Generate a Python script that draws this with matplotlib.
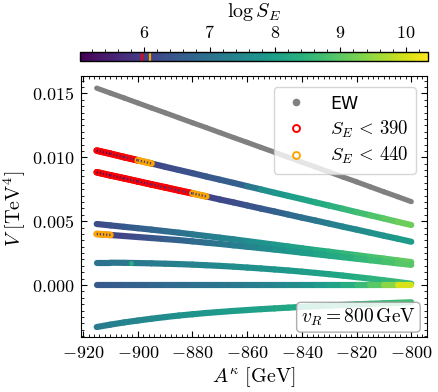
import numpy as np
import matplotlib
matplotlib.use("Agg")
import matplotlib.pyplot as plt
from matplotlib.collections import LineCollection
from matplotlib.colors import Normalize
from matplotlib.cm import ScalarMappable
from matplotlib.ticker import FuncFormatter, MultipleLocator
from matplotlib.lines import Line2D

plt.rcParams["mathtext.fontset"] = "cm"
plt.rcParams["font.size"] = 13

# ---------------- data ----------------
A_kappa = [-915, -910, -905, -900, -895, -890, -885, -880, -875, -870, -865, -860,
           -855, -850, -845, -840, -835, -830, -825, -820, -815, -810, -805, -800]

V_EW = [0.01542, 0.01503, 0.01465, 0.01426, 0.01387, 0.01349, 0.01310, 0.01271,
        0.01233, 0.01194, 0.01155, 0.01117, 0.01078, 0.01040, 0.01001, 0.00962,
        0.00924, 0.00885, 0.00846, 0.00808, 0.00769, 0.00730, 0.00692, 0.00653]

V_b1 = [0.01053, 0.01028, 0.01002, 0.00977, 0.00952, 0.00926, 0.00901, 0.00876,
        0.00850, 0.00825, 0.00800, 0.00774, 0.00749, 0.00723, 0.00698, 0.00673,
        0.00647, 0.00622, 0.00597, 0.00571, 0.00546, 0.00521, 0.00495, 0.00470]
S_b1 = [5.02, 5.30, 5.58, 5.90, 6.05, 6.20, 6.28, 6.36, 6.44, 6.52, 6.60, 6.68,
        7.60, 7.75, 7.90, 8.05, 8.20, 8.35, 8.50, 8.65, 8.80, 8.95, 9.10, 9.20]

V_b2 = [0.00883, 0.00859, 0.00836, 0.00812, 0.00788, 0.00765, 0.00741, 0.00718,
        0.00694, 0.00670, 0.00647, 0.00623, 0.00599, 0.00576, 0.00552, 0.00528,
        0.00505, 0.00481, 0.00457, 0.00434, 0.00410, 0.00386, 0.00363, 0.00339]
S_b2 = [5.10, 5.22, 5.34, 5.45, 5.55, 5.70, 5.82, 5.94, 6.06, 6.15, 6.25, 6.35,
        6.48, 6.62, 6.78, 6.95, 7.10, 7.25, 7.40, 7.52, 7.64, 7.76, 7.88, 8.00]

V_b3 = [0.00478, 0.00467, 0.00456, 0.00445, 0.00434, 0.00422, 0.00410, 0.00397,
        0.00384, 0.00371, 0.00358, 0.00344, 0.00330, 0.00316, 0.00302, 0.00288,
        0.00274, 0.00261, 0.00247, 0.00234, 0.00220, 0.00207, 0.00193, 0.00180]
S_b3 = [6.20, 6.33, 6.45, 6.58, 6.71, 6.83, 6.96, 7.08, 7.21, 7.34, 7.46, 7.59,
        7.72, 7.84, 7.97, 8.09, 8.22, 8.35, 8.47, 8.60, 8.73, 8.85, 8.98, 9.10]

V_b4 = [0.00400, 0.00392, 0.00384, 0.00376, 0.00368, 0.00360, 0.00352, 0.00342,
        0.00332, 0.00322, 0.00311, 0.00300, 0.00289, 0.00278, 0.00266, 0.00254,
        0.00242, 0.00230, 0.00218, 0.00206, 0.00194, 0.00182, 0.00170, 0.00158]
S_b4 = [6.03, 6.08, 6.12, 6.26, 6.39, 6.53, 6.67, 6.81, 6.94, 7.08, 7.22, 7.35,
        7.49, 7.63, 7.77, 7.90, 8.04, 8.18, 8.31, 8.45, 8.59, 8.73, 8.86, 9.00]

V_b5 = [0.00175, 0.00175, 0.00174, 0.00172, 0.00170, 0.00167, 0.00164, 0.00160,
        0.00155, 0.00150, 0.00144, 0.00137, 0.00130, 0.00122, 0.00114, 0.00105,
        0.00095, 0.00085, 0.00074, 0.00062, 0.00050, 0.00037, 0.00024, 0.00010]
S_b5 = [7.00, 7.05, 7.10, 7.15, 7.20, 7.26, 7.32, 7.38, 7.44, 7.50, 7.57, 7.64,
        7.71, 7.78, 7.86, 7.94, 8.02, 8.11, 8.20, 8.30, 8.40, 8.50, 8.60, 8.70]

V_b6 = [0.0] * 24
S_b6 = [6.45, 6.52, 6.59, 6.66, 6.73, 6.80, 6.87, 6.94, 7.01, 7.08, 7.15, 7.22,
        7.30, 7.40, 7.52, 7.66, 7.82, 8.00, 8.22, 8.48, 8.78, 9.15, 9.70, 10.34]

V_b7 = [-0.00329, -0.00310, -0.00293, -0.00278, -0.00264, -0.00251, -0.00239, -0.00229,
        -0.00219, -0.00211, -0.00203, -0.00196, -0.00189, -0.00183, -0.00177, -0.00171,
        -0.00166, -0.00161, -0.00156, -0.00151, -0.00147, -0.00143, -0.00139, -0.00135]
S_b7 = [7.20, 7.28, 7.36, 7.44, 7.52, 7.60, 7.67, 7.74, 7.81, 7.88, 7.94, 8.00,
        8.06, 8.12, 8.18, 8.24, 8.30, 8.36, 8.42, 8.48, 8.54, 8.60, 8.66, 8.72]

outlier_x = [-902.6]
outlier_V = [0.00174]
outlier_S = [8.3]

S_thresholds = [390, 440]
vR_label = r"$v_R = 800\,\mathrm{GeV}$"

# ---------------- figure ----------------
W, H = 438, 392
fig = plt.figure(figsize=(W / 100, H / 100), dpi=100)
ax = fig.add_axes([81 / W, (H - 337) / H, (427 - 81) / W, (337 - 76) / H])
cax = fig.add_axes([80 / W, (H - 61) / H, (428 - 80) / W, 9 / H])

cmap = plt.get_cmap("viridis")
norm = Normalize(vmin=5.02, vmax=10.34)
px = 72 / 100  # points per pixel

ln390, ln440 = np.log(S_thresholds[0]), np.log(S_thresholds[1])


def segments(x, v):
    pts = np.column_stack([x, v])
    return np.stack([pts[:-1], pts[1:]], axis=1)


def draw_branch(x, v, s):
    x = np.asarray(x, float)
    v = np.asarray(v, float)
    s = np.asarray(s, float)
    segs = segments(x, v)
    seg_s = 0.5 * (s[:-1] + s[1:])
    lc = LineCollection(segs, cmap=cmap, norm=norm, linewidths=6.2 * px,
                        capstyle="round", joinstyle="round", zorder=2)
    lc.set_array(seg_s)
    ax.add_collection(lc)
    cls = np.where(s < ln390, 0, np.where(s < ln440, 1, 2))
    seg_cls = np.maximum(cls[:-1], cls[1:])
    for c, col in [(0, "red"), (1, "orange")]:
        m = seg_cls == c
        if not m.any():
            continue
        hl = LineCollection(segs[m], colors=col, linewidths=6.8 * px,
                            capstyle="round", zorder=3)
        ax.add_collection(hl)
        inner = LineCollection(segs[m], cmap=cmap, norm=norm, linewidths=2.4 * px,
                               linestyles=[(0, (0.5, 0.8))], zorder=4)
        inner.set_array(seg_s[m])
        ax.add_collection(inner)


# EW branch
ax.add_collection(LineCollection(segments(np.asarray(A_kappa, float), np.asarray(V_EW)),
                                 colors="#808080", linewidths=5.2 * px,
                                 capstyle="round", zorder=2))
for V, S in [(V_b1, S_b1), (V_b2, S_b2), (V_b3, S_b3), (V_b4, S_b4),
             (V_b5, S_b5), (V_b6, S_b6), (V_b7, S_b7)]:
    draw_branch(A_kappa, V, S)
ax.scatter(outlier_x, outlier_V, c=outlier_S, cmap=cmap, norm=norm, s=(5 * px) ** 2,
           linewidths=0, zorder=3)

ax.set_xlim(-920.75, -794.25)
ax.set_ylim(-0.00407, 0.01637)

ax.xaxis.set_major_locator(MultipleLocator(20))
ax.xaxis.set_minor_locator(MultipleLocator(2))
ax.yaxis.set_major_locator(MultipleLocator(0.005))
ax.yaxis.set_minor_locator(MultipleLocator(0.0005))
ax.xaxis.set_major_formatter(FuncFormatter(lambda v, p: f"${v:.0f}$"))
ax.yaxis.set_major_formatter(FuncFormatter(lambda v, p: f"${v:.3f}$"))
ax.tick_params(which="both", direction="in", top=True, right=True, labelsize=13)
ax.tick_params(which="major", length=4.5, pad=5)
ax.tick_params(which="minor", length=2.3)

ax.set_xlabel(r"$A^{\kappa}\ [\mathrm{GeV}]$", fontsize=14.5, labelpad=2)
ax.set_ylabel(r"$V\ [\mathrm{TeV}^4]$", fontsize=14.5)
ax.yaxis.set_label_coords(-0.152, 0.49)

handles = [
    Line2D([], [], marker="o", linestyle="none", color="#808080", markersize=4.5,
           label="EW"),
    Line2D([], [], marker="o", linestyle="none", markerfacecolor="none",
           markeredgecolor="red", markeredgewidth=1.4, markersize=5,
           label=rf"$S_E\,<\,{S_thresholds[0]}$"),
    Line2D([], [], marker="o", linestyle="none", markerfacecolor="none",
           markeredgecolor="orange", markeredgewidth=1.4, markersize=5,
           label=rf"$S_E\,<\,{S_thresholds[1]}$"),
]
leg = ax.legend(handles=handles, loc="upper right", fontsize=13.5, labelspacing=0.3,
                borderaxespad=0.6, handletextpad=1.0, handlelength=1.6, borderpad=0.4)
leg.get_texts()[0].set_fontsize(12.5)
leg.set_zorder(10)

ax.text(0.968, 0.035, vR_label, transform=ax.transAxes, ha="right", va="bottom",
        fontsize=14, zorder=10,
        bbox=dict(boxstyle="round,pad=0.22", facecolor="white", edgecolor="#a0a0a0",
                  alpha=0.85, linewidth=1.0))

# colorbar
sm = ScalarMappable(norm=norm, cmap=cmap)
cb = fig.colorbar(sm, cax=cax, orientation="horizontal")
cax.xaxis.set_ticks_position("top")
cax.xaxis.set_label_position("top")
cb.set_label(r"$\log S_E$", fontsize=14.5, labelpad=5)
cb.set_ticks([6, 7, 8, 9, 10])
cax.xaxis.set_major_formatter(FuncFormatter(lambda v, p: f"${v:.0f}$"))
cax.xaxis.set_minor_locator(MultipleLocator(0.2))
cax.tick_params(which="major", direction="out", length=3.5, pad=4, labelsize=13)
cax.tick_params(which="minor", direction="out", length=2)
cax.axvline(ln390, color="red", lw=2.2 * px)
cax.axvline(ln440, color="orange", lw=2.2 * px)
cb.outline.set_linewidth(1.0)

fig.savefig("out.png", dpi=100)
